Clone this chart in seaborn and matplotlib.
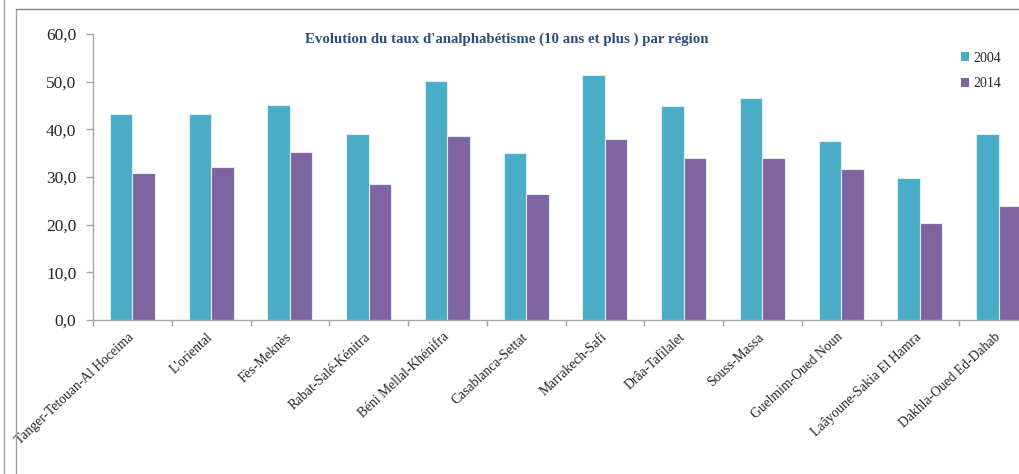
import matplotlib
matplotlib.use("Agg")
import matplotlib.pyplot as plt
import seaborn as sns
import pandas as pd
import numpy as np
from matplotlib.lines import Line2D
from matplotlib.patches import Patch
from matplotlib.ticker import FuncFormatter, FixedLocator

regions = ["Tanger-Tetouan-Al Hoceima", "L'oriental", "Fès-Meknès", "Rabat-Salé-Kénitra",
           "Béni Mellal-Khénifra", "Casablanca-Settat", "Marrakech-Safi", "Drâa-Tafilalet",
           "Souss-Massa", "Guelmim-Oued Noun", "Laâyoune-Sakia El Hamra", "Dakhla-Oued Ed-Dahab"]
taux_2004 = [43.2, 43.2, 45.1, 39.0, 50.1, 35.0, 51.4, 44.9, 46.6, 37.5, 29.8, 39.0]
taux_2014 = [30.8, 32.1, 35.2, 28.5, 38.6, 26.4, 38.0, 34.0, 34.0, 31.7, 20.3, 23.9]
years = ["2004", "2014"]
title = "Evolution du taux d'analphabétisme (10 ans et plus ) par région"

df = pd.DataFrame({
    "Région": regions * 2,
    "Année": [years[0]] * len(regions) + [years[1]] * len(regions),
    "Taux": taux_2004 + taux_2014,
})

sns.set_style("white")
plt.rcParams["font.family"] = ["Liberation Serif", "DejaVu Serif"]

colors = {"2004": "#4BACC6", "2014": "#8064A2"}

fig = plt.figure(figsize=(10.19, 4.74), dpi=100)
W, H = 1019, 474
ax = fig.add_axes([93 / W, (H - 320) / H, (1038 - 93) / W, (320 - 34) / H])

sns.barplot(data=df, x="Région", y="Taux", hue="Année", palette=colors,
            width=0.57, gap=0, ax=ax, legend=False, edgecolor="#DDEEF3", linewidth=0.8,
            saturation=1)

ax.set_xlim(-0.5, len(regions) - 0.5)
ax.set_ylim(0, 60)
ax.set_yticks(np.arange(0, 61, 10))
ax.yaxis.set_major_formatter(FuncFormatter(lambda v, p: f"{v:.1f}".replace(".", ",")))
ax.set_xlabel("")
ax.set_ylabel("")

for s in ["top", "right"]:
    ax.spines[s].set_visible(False)
for s in ["left", "bottom"]:
    ax.spines[s].set_color("#A6A6A6")
    ax.spines[s].set_linewidth(1.0)

ax.tick_params(axis="y", which="major", length=5, color="#A6A6A6", width=1,
               labelsize=12.5, pad=7, left=True)
ax.tick_params(axis="x", which="major", length=0, labelsize=9.8, pad=11, bottom=True)
ax.xaxis.set_minor_locator(FixedLocator(np.arange(-0.5, len(regions), 1.0)))
ax.tick_params(axis="x", which="minor", length=4, color="#A6A6A6", width=1, bottom=True)

ax.set_xticks(range(len(regions)))
ax.set_xticklabels(regions, rotation=43, ha="right", va="center", rotation_mode="anchor")

ax.set_title(title, fontsize=10.7, fontweight="bold", color="#2C4D7F",
             x=(507 - 93) / (1038 - 93), y=1.0, pad=-6, loc="center")

handles = [Patch(facecolor=colors[y], edgecolor="none", label=y) for y in years]
fig.legend(handles=handles, loc="upper left", bbox_to_anchor=(955 / W, 1 - 46 / H),
           frameon=False, fontsize=10, handlelength=0.6, handleheight=0.6,
           handletextpad=0.3, labelspacing=0.9, borderaxespad=0)

# outer frame of the original chart
fig.add_artist(Line2D([4 / W, 4 / W], [0, 1], transform=fig.transFigure, color="#A0A0A0", lw=1))
fig.add_artist(Line2D([16 / W, 16 / W], [0, 1 - 9 / H], transform=fig.transFigure, color="#A0A0A0", lw=1))
fig.add_artist(Line2D([16 / W, 1], [1 - 9 / H, 1 - 9 / H], transform=fig.transFigure, color="#808080", lw=1))

fig.savefig("out.png", dpi=100)
